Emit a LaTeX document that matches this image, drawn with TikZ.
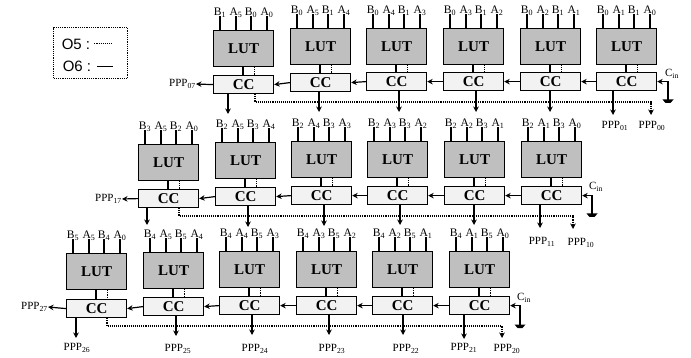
\documentclass[tikz,border=0pt]{standalone}
\usepackage{fontspec}
\setmainfont{Liberation Serif}
\newfontfamily\legendfont{Liberation Sans}
\usepackage{tikz}
\usetikzlibrary{arrows.meta}

\begin{document}
\begin{tikzpicture}[
    x=1pt, y=-1pt,
    lutbox/.style = {rectangle, draw=black, fill=gray!50, line width=1.2pt, anchor=north west, minimum width=60pt, minimum height=36pt, inner sep=0pt, font=\fontsize{15}{15}\selectfont\bfseries},
    ccbox/.style = {rectangle, draw=black, fill=gray!10, line width=1.2pt, anchor=north west, minimum width=60pt, minimum height=18pt, inner sep=0pt, font=\fontsize{15}{15}\selectfont\bfseries},
    pinlabel/.style = {anchor=south, inner sep=0pt, text height=7pt, text depth=1pt, font=\fontsize{11.5}{11.5}\selectfont},
    ppplabel/.style = {inner sep=0pt, font=\fontsize{11}{11}\selectfont},
    legendtext/.style = {inner sep=0pt, font=\legendfont\fontsize{15}{15}\selectfont},
    wire/.style = {draw=black, line width=1.2pt},
    arrow/.style = {draw=black, line width=1.2pt, -{Stealth[length=5.5pt,width=5.5pt]}},
    dotwire/.style = {draw=black, line width=1.1pt, densely dotted},
    dotarrow/.style = {draw=black, line width=1.1pt, densely dotted, -{Stealth[length=5.5pt,width=5.5pt]}}
]
\useasboundingbox (0,0) rectangle (691,358);

\node (legend) [rectangle, draw=black, line width=1.2pt, densely dotted, minimum width=74pt, minimum height=51pt, anchor=north west] at (53,27) {};
\node (o5) [legendtext] at (76,44) {O5 :};
\node (o6) [legendtext] at (77,66) {O6 :};
\coordinate (o5end) at (112,43);
\coordinate (o6end) at (113,66);
\draw [dotwire, line width=0.7pt] ([xshift=4pt]o5.east |- o5end) -- (o5end);
\draw [wire, line width=0.8pt] ([xshift=6pt]o6.east |- o6end) -- (o6end);

% name / x / lut top / cc top / labels / output arrow end
\foreach \cell/\x/\luty/\ccy/\ba/\aa/\bb/\ab/\outx/\outy in {
    a1/213/30/75/1/5/0/0/228/114, a2/290/28/73/0/5/1/4/319/112, a3/366/28/72/0/4/1/3/399/112,
    a4/443/28/72/0/3/1/2/476/112, a5/520/28/72/0/2/1/1/550/112, a6/596/28/72/0/1/1/0/613/115,
    b1/138/144/189/3/5/2/0/147/225, b2/215/142/187/2/5/3/4/248/227, b3/291/141/186/2/4/3/3/324/226,
    b4/367/141/186/2/3/3/2/400/225, b5/444/141/186/2/2/3/1/474/225, b6/521/141/186/2/1/3/0/540/228,
    c1/66/253/299/5/5/4/0/76/338, c2/143/252/297/4/5/5/4/176/336, c3/219/251/296/4/4/5/3/252/335,
    c4/296/251/296/4/3/5/2/329/335, c5/372/251/296/4/2/5/1/403/335, c6/449/251/296/4/1/5/0/464/339}
{
    \node (lut\cell) [lutbox] at (\x,\luty) {LUT};
    \node (cc\cell) [ccbox] at (\x,\ccy) {CC};
    \foreach \off/\txt/\k in {7/B\textsubscript{\ba}/p, 23/A\textsubscript{\aa}/q, 38/B\textsubscript{\bb}/r, 54/A\textsubscript{\ab}/s} {
        \node (\k\cell) [pinlabel] at (\x+\off,\luty-13.5) {\txt};
        \draw [wire] (\k\cell.south) -- (\k\cell.south |- lut\cell.north);
    }
    \coordinate (solid\cell) at (\x+30,\ccy);
    \coordinate (dot\cell) at (\x+41.5,\ccy);
    \coordinate (out\cell) at (\outx,\outy);
    \draw [wire] (solid\cell |- lut\cell.south) -- (solid\cell |- cc\cell.north);
    \draw [dotwire] (dot\cell |- lut\cell.south) -- (dot\cell |- cc\cell.north);
    \draw [arrow] (out\cell |- cc\cell.south) -- (out\cell);
}

\foreach \row in {a,b,c} {
    \foreach \from/\to in {2/1, 3/2, 4/3, 5/4, 6/5} {
        \draw [arrow] (cc\row\from.west) -- (cc\row\to.east);
    }
}

\node (ppp07) [ppplabel, anchor=east] at (196,84) {PPP\textsubscript{07}};
\node (ppp17) [ppplabel, anchor=east] at (122,199) {PPP\textsubscript{17}};
\node (ppp27) [ppplabel, anchor=east] at (48,307) {PPP\textsubscript{27}};
\draw [arrow] (cca1.west) -- (ppp07.east);
\draw [arrow] (ccb1.west) -- (ppp17.east);
\draw [arrow] (ccc1.west) -- (ppp27.east);

\node (ppp01) [ppplabel] at (615,126) {PPP\textsubscript{01}};
\node (ppp00) [ppplabel] at (652,126) {PPP\textsubscript{00}};
\node (ppp11) [ppplabel] at (542,242) {PPP\textsubscript{11}};
\node (ppp10) [ppplabel] at (581,243) {PPP\textsubscript{10}};
\node (ppp26) [ppplabel] at (77,348) {PPP\textsubscript{26}};
\node (ppp25) [ppplabel] at (178,349) {PPP\textsubscript{25}};
\node (ppp24) [ppplabel] at (255,349) {PPP\textsubscript{24}};
\node (ppp23) [ppplabel] at (332,349) {PPP\textsubscript{23}};
\node (ppp22) [ppplabel] at (406,349) {PPP\textsubscript{22}};
\node (ppp21) [ppplabel] at (464,348) {PPP\textsubscript{21}};
\node (ppp20) [ppplabel] at (507,349) {PPP\textsubscript{20}};

% dotted carry lines
\coordinate (busa) at (255,102);
\coordinate (enda) at (651,115);
\coordinate (busb) at (179,216);
\coordinate (endb) at (573,229);
\coordinate (busc) at (107,326);
\coordinate (endc) at (502,338);
\draw [dotarrow] (busa |- cca1.south) -- (busa) -| (enda);
\draw [dotarrow] (busb |- ccb1.south) -- (busb) -| (endb);
\draw [dotarrow] (busc |- ccc1.south) -- (busc) -| (endc);

% carry in with ground
\foreach \row/\gx/\gy/\lx/\ly in {a/668/100/672/74, b/592/214/596/187, c/520/325/524/298} {
    \coordinate (gnd\row) at (\gx,\gy);
    \node (cin\row) [ppplabel] at (\lx,\ly) {C\textsubscript{in}};
    \draw [arrow] (gnd\row) |- (cc\row6.east);
    \fill (gnd\row) ++(-5.5,-0.5) -- ++(11,0) -- ++(-3,3.5) -- ++(-5,0) -- cycle;
}

\end{tikzpicture}
\end{document}
